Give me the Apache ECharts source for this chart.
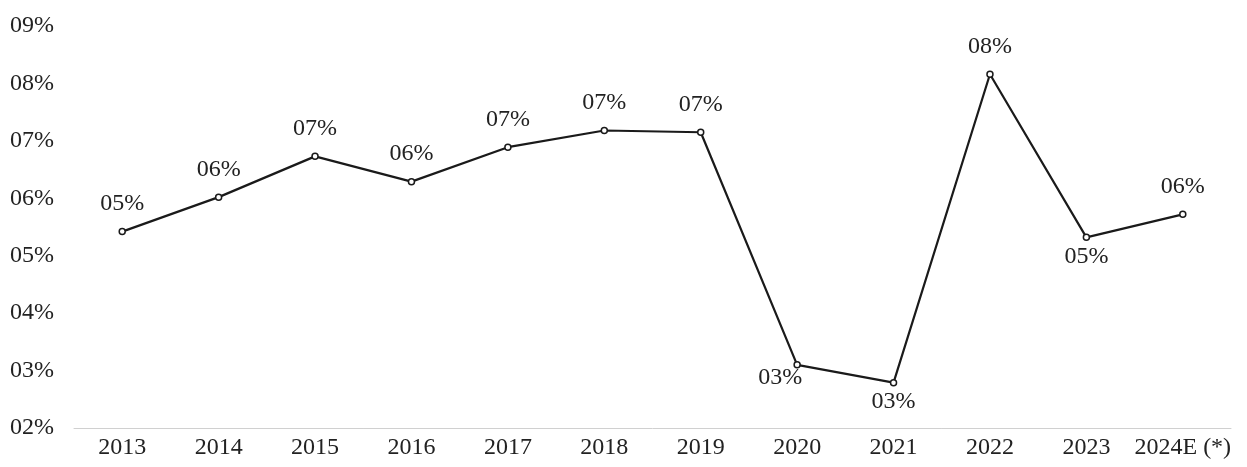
<!DOCTYPE html>
<html><head><meta charset="utf-8">
<script src="https://cdn.jsdelivr.net/npm/echarts@6/dist/echarts.min.js"></script>
<style>html,body{margin:0;padding:0;background:#fff}#c{width:1247px;height:467px}</style>
</head><body><div id="c"></div>
<script>
const categories = ['2013','2014','2015','2016','2017','2018','2019','2020','2021','2022','2023','2024E (*)'];
const values = [5.42, 6.02, 6.73, 6.29, 6.89, 7.18, 7.15, 3.10, 2.79, 8.16, 5.32, 5.72];
const pointLabels = ['05%','06%','07%','06%','07%','07%','07%','03%','03%','08%','05%','06%'];
const yTicks = ['02%','03%','04%','05%','06%','07%','08%','09%'];

const font = 'Liberation Serif';
const labelBase = {show:true, fontFamily:font, fontSize:24, color:'#222'};
const labelTweaks = {
  7: {position:'bottom', distance:-3, offset:[-17,0]},
  8: {position:'bottom', distance:3},
  10:{position:'bottom', distance:4}
};
const data = values.map((v,i)=>({
  value:v,
  label:Object.assign({}, labelBase, {position:'top', distance:12, formatter:pointLabels[i]}, labelTweaks[i]||{})
}));

const chart = echarts.init(document.getElementById('c'));
chart.setOption({
  animation:false,
  backgroundColor:'#fff',
  grid:{left:74, right:16, top:26, bottom:39},
  xAxis:{
    type:'category', data:categories, boundaryGap:true,
    axisLine:{lineStyle:{color:'#d0d0d0', width:1}},
    axisTick:{show:false},
    axisLabel:{interval:0, fontFamily:font, fontSize:24, color:'#222', margin:8}
  },
  yAxis:{
    type:'value', min:2, max:9, interval:1,
    axisLine:{show:false}, axisTick:{show:false}, splitLine:{show:false},
    axisLabel:{fontFamily:font, fontSize:24, color:'#222', margin:20,
      formatter:(v)=>yTicks[Math.round(v)-2]}
  },
  series:[{
    type:'line', data:data,
    lineStyle:{color:'#1a1a1a', width:2.2},
    symbol:'circle', symbolSize:6,
    itemStyle:{color:'#fff', borderColor:'#1a1a1a', borderWidth:1.5}
  }]
});
</script></body></html>
